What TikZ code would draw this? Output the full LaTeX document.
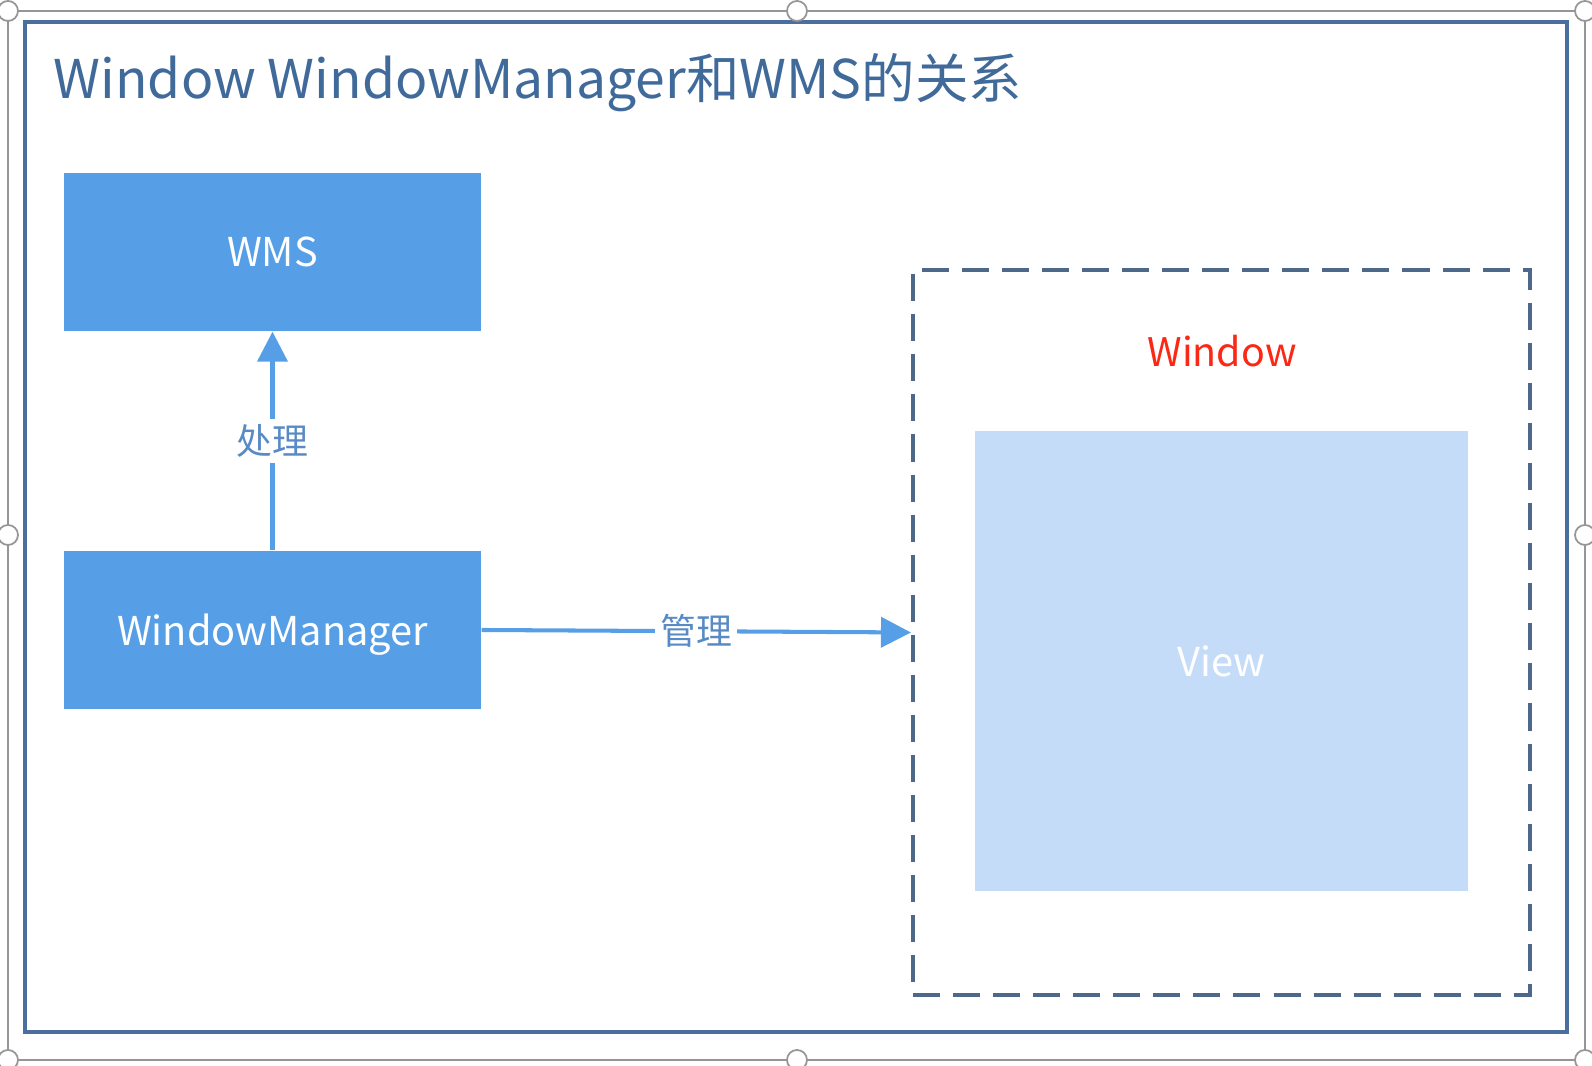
\documentclass[tikz,border=0pt]{standalone}
\usepackage{fontspec}
\setmainfont{Noto Sans CJK SC}
\usetikzlibrary{arrows.meta,positioning}
\definecolor{frameblue}{RGB}{74,111,158}
\definecolor{titleblue}{RGB}{64,106,154}
\definecolor{boxblue}{RGB}{86,159,230}
\definecolor{labelblue}{RGB}{88,138,198}
\definecolor{dashgray}{RGB}{77,104,138}
\definecolor{viewblue}{RGB}{197,220,248}
\definecolor{winred}{RGB}{250,40,20}
\definecolor{handlegray}{RGB}{150,150,150}
\tikzset{
	bluebox/.style={fill=boxblue, text=white, minimum width=4.17cm, minimum height=1.58cm, inner sep=0pt, text depth=0pt, font=\fontsize{11.3}{13}\selectfont},
	link/.style={draw=boxblue, line width=1.15pt, -{Triangle[length=0.3cm, width=0.3cm]}},
	linklabel/.style={fill=white, text=labelblue, inner sep=1.5pt, font=\fontsize{10.2}{12}\selectfont},
	handle/.style={circle, draw=handlegray, fill=white, line width=0.5pt, minimum size=0.2cm, inner sep=0pt}
}
\begin{document}
\begin{tikzpicture}
			%%%%% START %%%%%
			\useasboundingbox (0, 0) rectangle (15.92, 10.66);
			
			% selection frame
			\draw[handlegray, line width=0.5pt] (0.08, 10.55) rectangle (15.85, 0.06);
			
			% slide frame
			\draw[frameblue, line width=1pt] (0.25, 10.44) rectangle (15.67, 0.34);
			
			\node[anchor=base west, text=titleblue, inner sep=0pt, font=\fontsize{15.2}{18}\selectfont] (title) at (0.53, 9.675) {Window WindowManager和WMS的关系};
			
			\node[bluebox] (wms) at (2.725, 8.14) {WMS};
			\node[bluebox] (wm) at (2.725, 4.36) {WindowManager};
			
			\node[draw=dashgray, line width=1.1pt, dash pattern=on 7.7pt off 3.7pt, minimum width=6.17cm, minimum height=7.25cm, inner sep=0pt] (win) at (12.214, 4.335) {};
			\node[text=winred, font=\fontsize{11.2}{13}\selectfont] (wintitle) at (12.22, 7.15) {Window};
			\node[fill=viewblue, text=white, minimum width=4.93cm, minimum height=4.60cm, inner sep=0pt, font=\fontsize{11.3}{13}\selectfont] (view) at (12.214, 4.045) {View};
			
			\draw[link] (wm.north) -- node[linklabel] (handlelbl) {处理} (wms.south);
			\draw[link] (wm.east) -- node[linklabel] (managelbl) {管理} (win.west);
			
			% handles
			\foreach \hx/\hy in {0.08/10.55, 7.97/10.55, 15.85/10.55, 0.08/5.31, 15.85/5.31, 0.08/0.06, 7.97/0.06, 15.85/0.06}
				\node[handle] at (\hx, \hy) {};
			
			%%%%% END %%%%%
\end{tikzpicture}
\end{document}
